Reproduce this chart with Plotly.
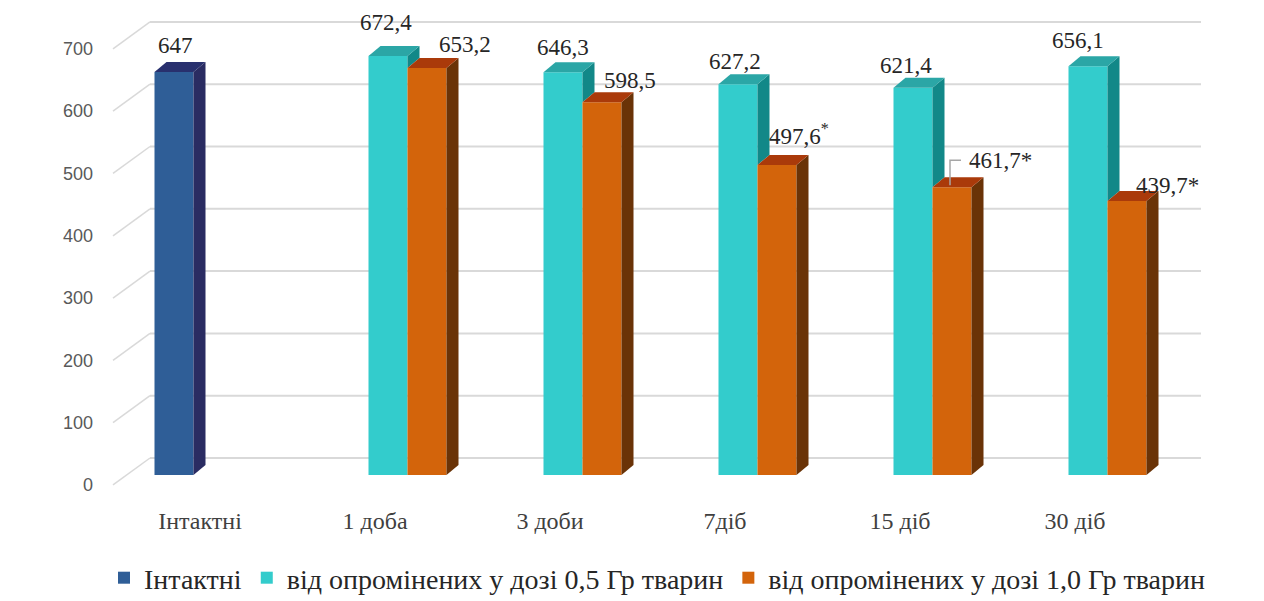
import plotly.graph_objects as go

# ---------------- data ----------------
categories = ["Інтактні", "1 доба", "3 доби", "7діб", "15 діб", "30 діб"]
series_names = [
    "Інтактні",
    "від опромінених у дозі 0,5 Гр тварин",
    "від опромінених у дозі 1,0 Гр тварин",
]
intact = [647, None, None, None, None, None]
dose_05 = [None, 672.4, 646.3, 627.2, 621.4, 656.1]
dose_10 = [None, 653.2, 598.5, 497.6, 461.7, 439.7]
significant_10 = [False, False, False, True, True, True]
y_ticks = [0, 100, 200, 300, 400, 500, 600, 700]

# ---------------- style ----------------
front_col = ["#2F5E97", "#33CCCC", "#D3640B"]
side_col = ["#2A2C62", "#128888", "#6A3307"]
top_col = ["#28306E", "#2BA6A6", "#AA3A0A"]
grid_col = "#D9D9D9"
SERIF = "Liberation Serif"
SANS = "Liberation Sans"

W_FIG, H_FIG = 1264, 601
ML, MR, MT, MB = 100, 50, 10, 101
plot_w = W_FIG - ML - MR
plot_h = H_FIG - MT - MB
px_x = 175.0          # pixels per category
px_y = 0.623          # pixels per value unit
x0_pix = 213.0        # pixel of category 0 centre
y0_pix = 475.0        # pixel of value 0 (front plane)

x_r0 = -(x0_pix - ML) / px_x
x_r1 = x_r0 + plot_w / px_x
y_r1 = (y0_pix - MT) / px_y
y_r0 = y_r1 - plot_h / px_y

def xu(px):  # pixel -> x units
    return px / px_x

def yu(px):
    return px / px_y

bw = xu(39)                    # bar width
offsets = [-1.5 * bw, -0.5 * bw, 0.5 * bw]
dx, dy = xu(12), yu(10)        # bar depth
wall_dy = yu(17)               # back wall offset
wall_x0 = x_r0 + xu(150 - ML)
wall_x1 = x_r0 + xu(1201 - ML)
diag_x0 = x_r0 + xu(113 - ML)
label_dy = 16

fig = go.Figure()

# back-wall gridlines and diagonal side-wall lines
for t in y_ticks:
    fig.add_shape(type="line", xref="x", yref="y", x0=wall_x0, x1=wall_x1,
                  y0=t + wall_dy, y1=t + wall_dy, line=dict(color=grid_col, width=2), layer="below")
    fig.add_shape(type="line", xref="x", yref="y", x0=diag_x0, x1=wall_x0,
                  y0=t - label_dy, y1=t + wall_dy, line=dict(color=grid_col, width=1.5), layer="below")

all_vals = [intact, dose_05, dose_10]

# front faces as bars
for s, vals in enumerate(all_vals):
    fig.add_trace(go.Bar(
        x=list(range(len(categories))), y=vals, name=series_names[s],
        width=bw, offset=offsets[s], marker=dict(color=front_col[s], line=dict(width=0)),
        hoverinfo="skip", showlegend=True,
    ))

# side and top faces
for s, vals in enumerate(all_vals):
    for i, v in enumerate(vals):
        if v is None:
            continue
        xl = i + offsets[s]
        xr = xl + bw
        base = 0
        if s + 1 < len(all_vals) and all_vals[s + 1][i] is not None:
            base = min(all_vals[s + 1][i], v)
        fig.add_trace(go.Scatter(
            x=[xr, xr + dx, xr + dx, xr, xr],
            y=[base, base + dy, v + dy, v, base],
            fill="toself", fillcolor=side_col[s], mode="lines", line=dict(width=0),
            hoverinfo="skip", showlegend=False))
        fig.add_trace(go.Scatter(
            x=[xl, xl + dx, xr + dx, xr, xl],
            y=[v, v + dy, v + dy, v, v],
            fill="toself", fillcolor=top_col[s], mode="lines", line=dict(width=0),
            hoverinfo="skip", showlegend=False))

# data labels
def fmt(v):
    return (f"{v:.1f}".replace(".", ",")) if v != int(v) else str(int(v))

label_shift = {  # (series, cat): (xshift, yshift) px
    (0, 0): (1, 26),
    (1, 1): (-2, 34), (2, 1): (38, 24),
    (1, 2): (0, 25), (2, 2): (28, 22),
    (1, 3): (-3, 23), (2, 3): (22, 31),
    (1, 4): (-7, 22), (2, 4): (48, 27),
    (1, 5): (-10, 26), (2, 5): (40, 16),
}
for s, vals in enumerate(all_vals):
    for i, v in enumerate(vals):
        if v is None:
            continue
        txt = fmt(v)
        if s == 2 and significant_10[i]:
            txt = txt + ("<sup>*</sup>" if i == 3 else "*")
        xs, ys = label_shift[(s, i)]
        fig.add_annotation(x=i + offsets[s] + bw / 2, y=v, xref="x", yref="y",
                           text=txt, showarrow=False, xshift=xs, yshift=ys,
                           xanchor="center", yanchor="middle",
                           font=dict(family=SERIF, size=23, color="#262626"))

# leader line for 461,7
i_lead = 4
v_lead = dose_10[i_lead]
xc = i_lead + offsets[2] + bw / 2 - xu(2)
fig.add_shape(type="path", xref="x", yref="y",
              path=f"M {xc},{v_lead + yu(2)} L {xc},{v_lead + yu(27)} L {xc + xu(11)},{v_lead + yu(27)}",
              line=dict(color="#A6A6A6", width=1.5))

fig.update_layout(
    width=W_FIG, height=H_FIG,
    margin=dict(l=ML, r=MR, t=MT, b=MB, autoexpand=False),
    plot_bgcolor="white", paper_bgcolor="white",
    barmode="overlay",
    xaxis=dict(range=[x_r0, x_r1], showgrid=False, zeroline=False, showline=False,
               tickvals=[i - xu(13) for i in range(len(categories))], ticktext=categories,
               ticks="", ticklabelstandoff=4,
               tickfont=dict(family=SERIF, size=24, color="#404040")),
    yaxis=dict(range=[y_r0, y_r1], showgrid=False, zeroline=False, showline=False,
               tickvals=[t - label_dy for t in y_ticks], ticktext=[str(t) for t in y_ticks],
               ticks="", ticklabelstandoff=6,
               tickfont=dict(family=SANS, size=18, color="#595959")),
    legend=dict(orientation="h", x=0.5, xanchor="center", y=-(578 - (H_FIG - MB)) / plot_h,
                yanchor="middle", itemwidth=30, font=dict(family=SERIF, size=28, color="#262626"),
                traceorder="normal"),
    showlegend=True,
)

fig.write_html("out.html")
